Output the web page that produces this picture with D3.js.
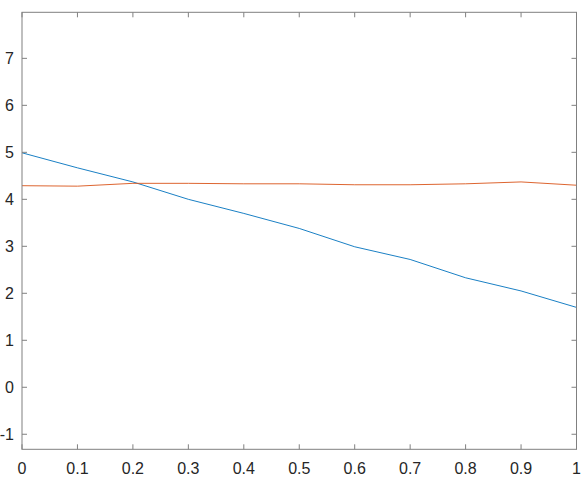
<!DOCTYPE html>
<html>
<head>
<meta charset="utf-8">
<script src="https://cdn.jsdelivr.net/npm/d3@7"></script>
<style>
  html, body { margin: 0; padding: 0; background: #fff; }
  svg { display: block; }
  text { font-family: "Liberation Sans", Arial, sans-serif; }
</style>
</head>
<body>
<svg id="chart" width="588" height="488"></svg>
<script>
const xValues = [0, 0.1, 0.2, 0.3, 0.4, 0.5, 0.6, 0.7, 0.8, 0.9, 1.0];
const blueSeries = [4.99, 4.67, 4.37, 4.0, 3.70, 3.38, 2.99, 2.72, 2.33, 2.05, 1.70];
const redSeries = [4.29, 4.28, 4.34, 4.34, 4.33, 4.33, 4.31, 4.31, 4.33, 4.37, 4.30];
const xTicks = [0, 0.1, 0.2, 0.3, 0.4, 0.5, 0.6, 0.7, 0.8, 0.9, 1];
const yTicks = [-1, 0, 1, 2, 3, 4, 5, 6, 7];
const xDomain = [0, 1];
const yDomain = [-1.32, 7.98];

(function () {
const svg = d3.select("#chart");
const mLeft = 22, mRight = 576.5, mTop = 12.3, mBottom = 449.3;

const x = d3.scaleLinear().domain(xDomain).range([mLeft, mRight]);
const y = d3.scaleLinear().domain(yDomain).range([mBottom, mTop]);

const axisColor = "#808080";
const textColor = "#262626";
const tickLen = 5;

const line = (vals) => d3.line().x((d, i) => x(xValues[i])).y(d => y(d))(vals);

svg.append("path").attr("d", line(blueSeries))
  .attr("fill", "none").attr("stroke", "#0072BD").attr("stroke-width", 0.9);
svg.append("path").attr("d", line(redSeries))
  .attr("fill", "none").attr("stroke", "#D95319").attr("stroke-width", 0.9);

const g = svg.append("g").attr("stroke", axisColor).attr("stroke-width", 1).attr("fill", "none");
g.append("rect").attr("x", mLeft).attr("y", mTop).attr("width", mRight - mLeft).attr("height", mBottom - mTop);

xTicks.forEach(t => {
  const px = x(t);
  g.append("line").attr("x1", px).attr("x2", px).attr("y1", mBottom).attr("y2", mBottom - tickLen);
  g.append("line").attr("x1", px).attr("x2", px).attr("y1", mTop).attr("y2", mTop + tickLen);
});
yTicks.forEach(t => {
  const py = y(t);
  g.append("line").attr("x1", mLeft).attr("x2", mLeft + tickLen).attr("y1", py).attr("y2", py);
  g.append("line").attr("x1", mRight).attr("x2", mRight - tickLen).attr("y1", py).attr("y2", py);
});

const fmt = d => (d === 0 || d === 1) ? String(d) : d3.format(".1f")(d);
svg.append("g").selectAll("text").data(xTicks).join("text")
  .attr("x", d => x(d)).attr("y", 473.5)
  .attr("text-anchor", "middle").attr("font-size", 16).attr("fill", textColor)
  .text(fmt);

svg.append("g").selectAll("text").data(yTicks).join("text")
  .attr("x", 14).attr("y", d => y(d) + 5.7)
  .attr("text-anchor", "end").attr("font-size", 16).attr("fill", textColor)
  .text(d => d < 0 ? "-" + Math.abs(d) : String(d));
})();
</script>
</body>
</html>
